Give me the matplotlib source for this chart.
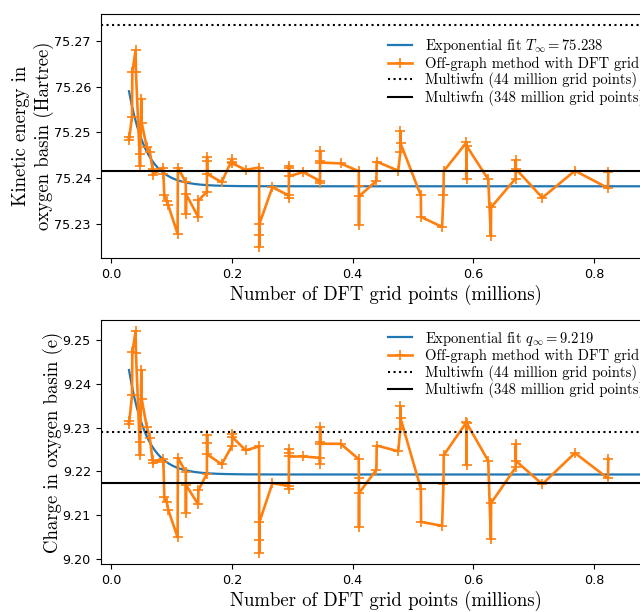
import numpy as np
import matplotlib
matplotlib.use("Agg")
import matplotlib.pyplot as plt

plt.rcParams['mathtext.fontset'] = 'cm'
plt.rcParams['axes.unicode_minus'] = False

LABEL_FONT = 'cmr10'

# number of DFT grid points (millions), one entry per run
grid_pts = [0.0290, 0.0295, 0.0345, 0.0350, 0.0405, 0.0410, 0.0470, 0.0477,
            0.0500, 0.0505, 0.0590, 0.0640, 0.0685, 0.0690, 0.0860, 0.0865,
            0.0880, 0.0918, 0.0946, 0.1100, 0.1105, 0.1235, 0.1238, 0.1240,
            0.1440, 0.1445, 0.1585, 0.1588, 0.1590, 0.1592, 0.1830, 0.2003,
            0.2006, 0.2009, 0.2226, 0.2450, 0.2452, 0.2454, 0.2456, 0.2670,
            0.2940, 0.2942, 0.2944, 0.2946, 0.2948, 0.3180, 0.3455, 0.3458,
            0.3460, 0.3462, 0.3465, 0.3800, 0.4100, 0.4102, 0.4104, 0.4106,
            0.4393, 0.4397, 0.4754, 0.4788, 0.4790, 0.4792, 0.5128, 0.5132,
            0.5480, 0.5503, 0.5507, 0.5884, 0.5886, 0.5888, 0.6244, 0.6288,
            0.6292, 0.6698, 0.6700, 0.6702, 0.7140, 0.7680, 0.8228, 0.8232]

# kinetic energy in oxygen basin (Hartree)
kinetic = [75.2489, 75.2484, 75.2534, 75.2632, 75.2680, 75.2632, 75.2452, 75.2427,
           75.2574, 75.2521, 75.2467, 75.2458, 75.2420, 75.2407, 75.2423, 75.2409,
           75.2362, 75.2349, 75.2340, 75.2278, 75.2423, 75.2391, 75.2322, 75.2365,
           75.2315, 75.2351, 75.2370, 75.2445, 75.2438, 75.2409, 75.2391, 75.2441,
           75.2436, 75.2432, 75.2418, 75.2423, 75.2249, 75.2275, 75.2300, 75.2380,
           75.2362, 75.2356, 75.2427, 75.2421, 75.2404, 75.2413, 75.2394, 75.2389,
           75.2460, 75.2437, 75.2434, 75.2432, 75.2415, 75.2383, 75.2298, 75.2360,
           75.2394, 75.2436, 75.2416, 75.2456, 75.2502, 75.2476, 75.2362, 75.2315,
           75.2293, 75.2363, 75.2415, 75.2478, 75.2397, 75.2470, 75.2397, 75.2273,
           75.2336, 75.2399, 75.2440, 75.2420, 75.2357, 75.2416, 75.2378, 75.2413]

# charge in oxygen basin (e)
charge = [9.2314, 9.2307, 9.2373, 9.2471, 9.2520, 9.2470, 9.2267, 9.2237,
          9.2430, 9.2365, 9.2301, 9.2277, 9.2225, 9.2219, 9.2229, 9.2222,
          9.2142, 9.2131, 9.2112, 9.2050, 9.2231, 9.2199, 9.2106, 9.2169,
          9.2125, 9.2157, 9.2195, 9.2284, 9.2265, 9.2239, 9.2216, 9.2259,
          9.2286, 9.2278, 9.2248, 9.2257, 9.2014, 9.2044, 9.2085, 9.2173,
          9.2167, 9.2161, 9.2250, 9.2242, 9.2234, 9.2234, 9.2231, 9.2218,
          9.2301, 9.2267, 9.2263, 9.2263, 9.2228, 9.2184, 9.2074, 9.2151,
          9.2204, 9.2259, 9.2246, 9.2297, 9.2348, 9.2321, 9.2161, 9.2085,
          9.2076, 9.2171, 9.2237, 9.2312, 9.2214, 9.2310, 9.2224, 9.2045,
          9.2128, 9.2209, 9.2263, 9.2224, 9.2171, 9.2242, 9.2184, 9.2229]

# exponential fits  y = y_inf + amp * exp(-(x - x0) / scale)
fit_x0, fit_x1, fit_scale = 0.0295, 0.95, 0.0292
T_inf, T_amp = 75.2382, 0.0208
q_inf, q_amp = 9.2193, 0.0238

# Multiwfn reference values (44 / 348 million grid points)
T_multiwfn_44, T_multiwfn_348 = 75.2735, 75.2415
q_multiwfn_44, q_multiwfn_348 = 9.2290, 9.2174


def panel(ax, y, y_inf, amp, ref44, ref348, fit_label, ylabel, ylim, yticks,
          leg_y):
  xf = np.linspace(fit_x0, fit_x1, 400)
  ax.plot(xf, y_inf + amp * np.exp(-(xf - fit_x0) / fit_scale),
          color='C0', lw=1.6, label=fit_label)
  ax.plot(grid_pts, y, color='C1', marker='+', ms=7, mew=1.2, lw=1.9,
          label='Off-graph method with DFT grid')
  ax.axhline(ref44, color='k', ls=':', lw=1.5,
             label='Multiwfn (44 million grid points)')
  ax.axhline(ref348, color='k', ls='-', lw=1.5,
             label='Multiwfn (348 million grid points)')
  ax.set_xlim(-0.0174, 0.928)
  ax.set_ylim(*ylim)
  ax.set_yticks(yticks)
  ax.set_xticks([0.0, 0.2, 0.4, 0.6, 0.8])
  ax.tick_params(labelsize=9.2)
  ax.set_xlabel('Number of DFT grid points (millions)', fontfamily=LABEL_FONT,
                fontsize=13.5, labelpad=3)
  ax.set_ylabel(ylabel, fontfamily=LABEL_FONT, fontsize=13.5, linespacing=1.3,
                labelpad=0)
  ax.legend(loc='upper left', bbox_to_anchor=(0.503, leg_y), frameon=False,
            borderaxespad=0, borderpad=0, handlelength=1.65,
            handletextpad=0.9, labelspacing=0.1,
            prop={'family': LABEL_FONT, 'size': 10.5})


fig = plt.figure(figsize=(6.4, 6.12), dpi=100)
ax1 = fig.add_axes([0.1573, 0.5784, 0.892, 0.3987])
ax2 = fig.add_axes([0.1573, 0.0784, 0.892, 0.3987])

panel(ax1, kinetic, T_inf, T_amp, T_multiwfn_44, T_multiwfn_348,
      r'Exponential fit $T_\infty = %.3f$' % T_inf,
      'Kinetic energy in\noxygen basin (Hartree)',
      (75.2225, 75.2759), [75.23, 75.24, 75.25, 75.26, 75.27], 0.905)
panel(ax2, charge, q_inf, q_amp, q_multiwfn_44, q_multiwfn_348,
      r'Exponential fit $q_\infty = %.3f$' % q_inf,
      'Charge in oxygen basin (e)',
      (9.1989, 9.2545), [9.20, 9.21, 9.22, 9.23, 9.24, 9.25], 0.961)
fig.align_ylabels([ax1, ax2])

fig.savefig('out.png', dpi=100)
